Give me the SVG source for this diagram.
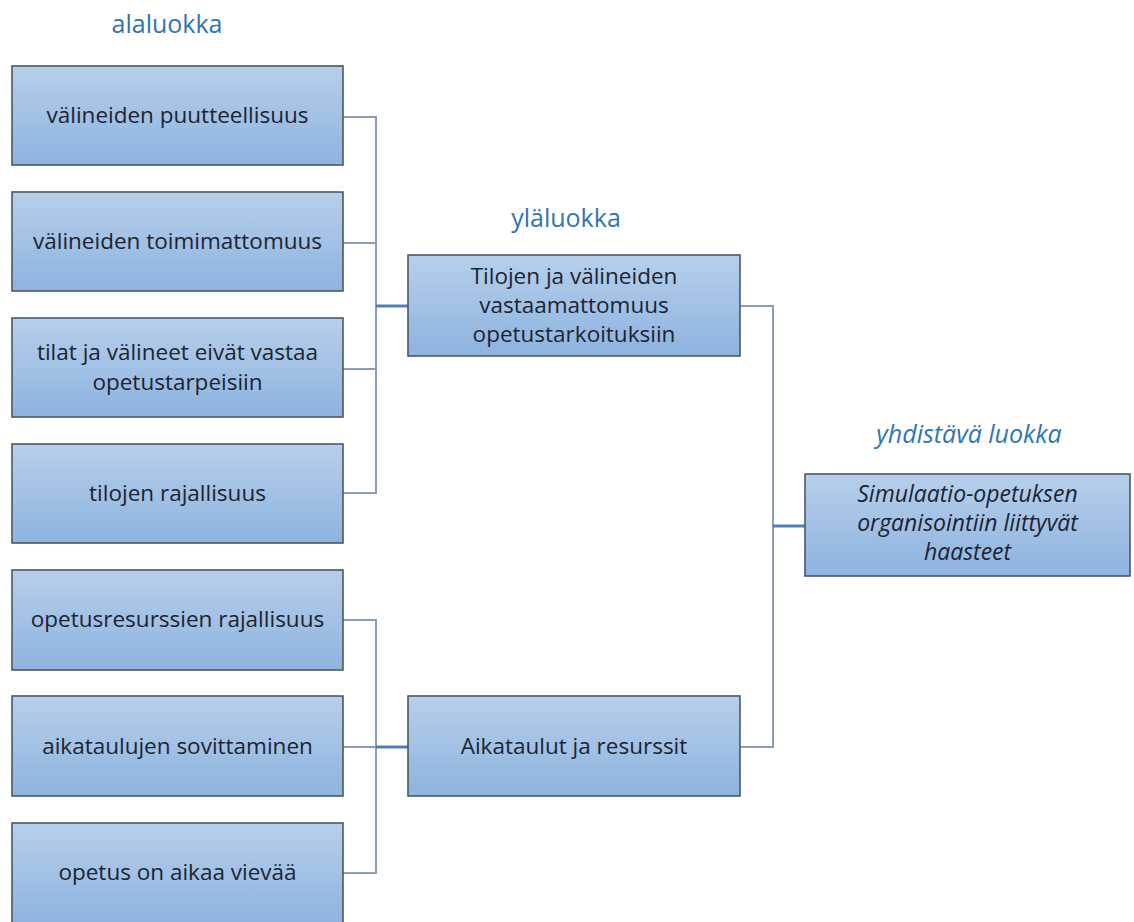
<svg xmlns="http://www.w3.org/2000/svg" width="1134" height="922" viewBox="0 0 1134 922">
<defs>
<linearGradient id="g" x1="0" y1="0" x2="0" y2="1">
<stop offset="0" stop-color="#b7cfeb"/>
<stop offset="1" stop-color="#8db3df"/>
</linearGradient>
<style>
.box{fill:url(#g);stroke:#4b5866;stroke-width:1.6}
.t{font-family:"Open Sans","Liberation Sans",sans-serif;font-size:22.5px;fill:#1c2433;text-anchor:middle}
.it{font-style:italic}
.ti{font-size:23px}
.lab{font-family:"Open Sans","Liberation Sans",sans-serif;font-size:25px;fill:#2e75b6;text-anchor:middle}
.c{fill:none;stroke:#8c9db4;stroke-width:2}
.cb{fill:none;stroke:#4f7fb8;stroke-width:3}
</style>
</defs>
<rect width="1134" height="922" fill="#ffffff"/>
<text class="lab" x="167" y="33">alaluokka</text>
<text class="lab" x="566" y="227">yläluokka</text>
<text class="lab it" x="969" y="443">yhdistävä luokka</text>
<g id="connectors">
<path class="c" d="M343 117H376V493H343M343 243H376M343 369H376"/>
<path class="cb" d="M376 306H408"/>
<path class="c" d="M343 620H376V873H343M343 747H376"/>
<path class="cb" d="M376 747H408"/>
<path class="c" d="M740 306H773V747H740"/>
<path class="cb" d="M773 526H805"/>
</g>
<g id="n1"><rect class="box" x="12" y="66" width="331" height="99"/><text class="t" x="177.5" y="123">välineiden puutteellisuus</text></g>
<g id="n2"><rect class="box" x="12" y="192" width="331" height="99"/><text class="t" x="177.5" y="249">välineiden toimimattomuus</text></g>
<g id="n3"><rect class="box" x="12" y="318" width="331" height="99"/><text class="t" x="177.5" y="360">tilat ja välineet eivät vastaa</text><text class="t" x="177.5" y="390">opetustarpeisiin</text></g>
<g id="n4"><rect class="box" x="12" y="444" width="331" height="99"/><text class="t" x="177.5" y="501">tilojen rajallisuus</text></g>
<g id="n5"><rect class="box" x="12" y="570" width="331" height="100"/><text class="t" x="177.5" y="627">opetusresurssien rajallisuus</text></g>
<g id="n6"><rect class="box" x="12" y="696" width="331" height="100"/><text class="t" x="177.5" y="754">aikataulujen sovittaminen</text></g>
<g id="n7"><rect class="box" x="12" y="823" width="331" height="101"/><text class="t" x="177.5" y="880">opetus on aikaa vievää</text></g>
<g id="m1"><rect class="box" x="408" y="255" width="332" height="101"/><text class="t" x="574" y="284">Tilojen ja välineiden</text><text class="t" x="574" y="313">vastaamattomuus</text><text class="t" x="574" y="342">opetustarkoituksiin</text></g>
<g id="m2"><rect class="box" x="408" y="696" width="332" height="100"/><text class="t" x="574" y="754">Aikataulut ja resurssit</text></g>
<g id="r1"><rect class="box" x="805" y="474" width="325" height="102"/><text class="t it ti" x="967.5" y="502">Simulaatio-opetuksen</text><text class="t it ti" x="967.5" y="531">organisointiin liittyvät</text><text class="t it ti" x="967.5" y="560">haasteet</text></g>
</svg>
